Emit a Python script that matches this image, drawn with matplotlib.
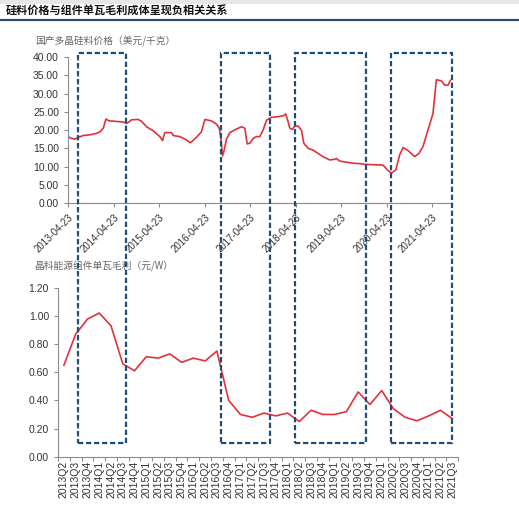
import numpy as np
import pandas as pd
import matplotlib
matplotlib.use("Agg")
import matplotlib.pyplot as plt
import matplotlib.dates as mdates
from matplotlib.patches import Rectangle
from matplotlib.ticker import FormatStrFormatter

plt.rcParams['font.family'] = ['Liberation Sans', 'Noto Sans CJK SC']
cjk = ['Noto Sans CJK SC', 'DejaVu Sans']

title = '硅料价格与组件单瓦毛利成体呈现负相关关系'
top_label = '国产多晶硅料价格（美元/千克）'
bottom_label = '晶科能源组件单瓦毛利（元/W）'

# polysilicon price, USD/kg
price_dates = [
    '2013-04-23', '2013-05-22', '2013-06-18', '2013-07-15', '2013-08-24', '2013-10-16',
    '2013-12-09', '2014-01-04', '2014-01-31', '2014-02-21', '2014-03-20', '2014-05-04',
    '2014-07-10', '2014-08-06', '2014-08-27', '2014-09-15', '2014-11-07', '2014-12-04',
    '2015-01-13', '2015-03-07', '2015-04-30', '2015-05-21', '2015-06-09', '2015-08-01',
    '2015-08-15', '2015-10-07', '2015-11-29', '2015-12-31', '2016-02-17', '2016-03-28',
    '2016-04-25', '2016-06-17', '2016-07-27', '2016-08-18', '2016-08-31', '2016-09-13',
    '2016-09-24', '2016-10-15', '2016-11-11', '2017-01-04', '2017-02-13', '2017-03-11',
    '2017-03-30', '2017-04-21', '2017-05-17', '2017-06-13', '2017-07-09', '2017-08-05',
    '2017-09-01', '2017-10-11', '2017-11-20', '2018-01-12', '2018-02-02', '2018-02-21',
    '2018-03-07', '2018-03-28', '2018-04-16', '2018-05-12', '2018-06-08', '2018-06-27',
    '2018-07-31', '2018-09-09', '2018-10-20', '2018-11-28', '2019-01-21', '2019-03-02',
    '2019-03-15', '2019-04-11', '2019-06-03', '2019-07-27', '2019-09-18', '2019-10-28',
    '2020-01-03', '2020-03-23', '2020-05-03', '2020-05-30', '2020-07-04', '2020-08-04',
    '2020-08-31', '2020-10-10', '2020-12-02', '2021-01-06', '2021-02-07', '2021-03-19',
    '2021-04-28', '2021-05-25', '2021-07-04', '2021-07-31', '2021-08-27', '2021-09-14',
]
price_values = [
    18.2, 17.7, 17.5, 18.0, 18.5, 18.7,
    19.1, 19.5, 20.5, 23.0, 22.5, 22.4,
    22.2, 21.8, 22.3, 22.8, 22.9, 22.4,
    20.9, 19.8, 18.2, 17.1, 19.3, 19.3,
    18.5, 18.2, 17.3, 16.5, 18.0, 19.5,
    22.9, 22.5, 21.6, 20.5, 17.7, 12.9,
    14.1, 17.5, 19.3, 20.3, 20.9, 20.5,
    16.2, 16.4, 17.7, 18.2, 18.2, 20.0,
    22.7, 23.5, 23.6, 23.9, 24.4, 22.3,
    20.5, 20.2, 21.1, 21.1, 20.0, 16.4,
    15.0, 14.5, 13.6, 12.7, 11.8, 12.0,
    12.2, 11.5, 11.2, 10.9, 10.8, 10.6,
    10.5, 10.4, 8.9, 8.2, 9.1, 13.2,
    15.2, 14.4, 12.7, 13.6, 15.5, 20.0,
    24.5, 33.8, 33.5, 32.3, 32.3, 33.6,
]
price_start = '2013-04-23'
price_end = '2021-09-28'
price_ticks = ['2013-04-23', '2014-04-23', '2015-04-23', '2016-04-23', '2017-04-23',
               '2018-04-23', '2019-04-23', '2020-04-23', '2021-04-23']

# module gross margin per watt, CNY/W
quarters = ['2013Q2', '2013Q3', '2013Q4', '2014Q1', '2014Q2', '2014Q3', '2014Q4',
            '2015Q1', '2015Q2', '2015Q3', '2015Q4', '2016Q1', '2016Q2', '2016Q3',
            '2016Q4', '2017Q1', '2017Q2', '2017Q3', '2017Q4', '2018Q1', '2018Q2',
            '2018Q3', '2018Q4', '2019Q1', '2019Q2', '2019Q3', '2019Q4', '2020Q1',
            '2020Q2', '2020Q3', '2020Q4', '2021Q1', '2021Q2', '2021Q3']
margin = [0.65, 0.87, 0.977, 1.02, 0.93, 0.66, 0.61,
          0.71, 0.70, 0.73, 0.67, 0.70, 0.68, 0.75,
          0.40, 0.30, 0.28, 0.31, 0.29, 0.31, 0.25,
          0.33, 0.30, 0.30, 0.32, 0.46, 0.37, 0.47,
          0.34, 0.28, 0.255, 0.29, 0.33, 0.27]

# highlighted periods (start, end) on the price chart's date axis
box_starts = ['2013-07-15', '2016-08-31', '2018-04-16', '2020-05-30']
box_ends = ['2014-07-29', '2017-09-28', '2019-11-10', '2021-09-28']

red = '#E2313B'
navy = '#1F4E79'
axis_grey = '#8C8C8C'
text_grey = '#333333'

fig = plt.figure(figsize=(5.19, 5.05), dpi=100)

# header
fig.text(0.012, 0.978, title, fontsize=8, fontweight='bold', family=cjk,
         va='center', ha='left', color='#111111')
fig.add_artist(plt.Line2D([0, 1], [0.961, 0.961], transform=fig.transFigure,
                          color='#2E4A66', lw=1.6))
fig.add_artist(Rectangle((0, 0.993), 1, 0.007, transform=fig.transFigure,
                         color='#E6E6E6', lw=0))


def style_axes(ax):
    for s in ['top', 'right']:
        ax.spines[s].set_visible(False)
    for s in ['left', 'bottom']:
        ax.spines[s].set_color(axis_grey)
        ax.spines[s].set_linewidth(0.8)
    ax.tick_params(colors=axis_grey, labelcolor=text_grey, labelsize=7.5,
                   width=0.8, length=3)


# top chart: silicon price
ax1 = fig.add_axes([0.131, 0.598, 0.740, 0.289])
dates = pd.to_datetime(price_dates)
ax1.plot(dates, price_values, color=red, lw=1.2)
ax1.set_xlim(pd.Timestamp(price_start), pd.Timestamp(price_end))
ax1.set_ylim(0, 40)
ax1.set_yticks(np.arange(0, 40.1, 5))
ax1.yaxis.set_major_formatter(FormatStrFormatter('%.2f'))
ax1.set_xticks(pd.to_datetime(price_ticks))
ax1.xaxis.set_major_formatter(mdates.DateFormatter('%Y-%m-%d'))
style_axes(ax1)
for lab in ax1.get_xticklabels():
    lab.set_rotation(45)
    lab.set_ha('right')
    lab.set_rotation_mode('anchor')
    lab.set_fontsize(7)
fig.text(0.067, 0.918, top_label, fontsize=7, family=cjk, color='#666666',
         va='center', ha='left')

# bottom chart: gross margin per watt
ax2 = fig.add_axes([0.1118, 0.0956, 0.771, 0.3347])
pos = np.arange(len(quarters))
ax2.plot(pos, margin, color=red, lw=1.2)
ax2.set_xlim(-0.5, len(quarters) - 0.5)
ax2.set_ylim(0, 1.2)
ax2.set_yticks(np.arange(0, 1.21, 0.2))
ax2.yaxis.set_major_formatter(FormatStrFormatter('%.2f'))
ax2.set_xticks(pos)
ax2.set_xticklabels(quarters, rotation=90, fontsize=7)
ax2.set_xticks(np.arange(-0.5, len(quarters)), minor=True)
style_axes(ax2)
ax2.tick_params(axis='x', which='major', length=0, pad=3)
ax2.tick_params(axis='x', which='minor', length=3, color=axis_grey, width=0.8)
fig.text(0.065, 0.475, bottom_label, fontsize=7, family=cjk, color='#666666',
         va='center', ha='left')

# dashed boxes spanning both charts
inv = fig.transFigure.inverted()
for s, e in zip(box_starts, box_ends):
    x0, y_top = inv.transform(ax1.transData.transform(
        (mdates.date2num(pd.Timestamp(s)), 41.0)))
    x1, _ = inv.transform(ax1.transData.transform(
        (mdates.date2num(pd.Timestamp(e)), 41.0)))
    _, y_bot = inv.transform(ax2.transData.transform((0, 0.1)))
    fig.add_artist(Rectangle((x0, y_bot), x1 - x0, y_top - y_bot,
                             transform=fig.transFigure, fill=False,
                             edgecolor=navy, lw=1.6, linestyle=(0, (2.4, 1.2)),
                             zorder=5))

fig.savefig('out.png', dpi=100)
